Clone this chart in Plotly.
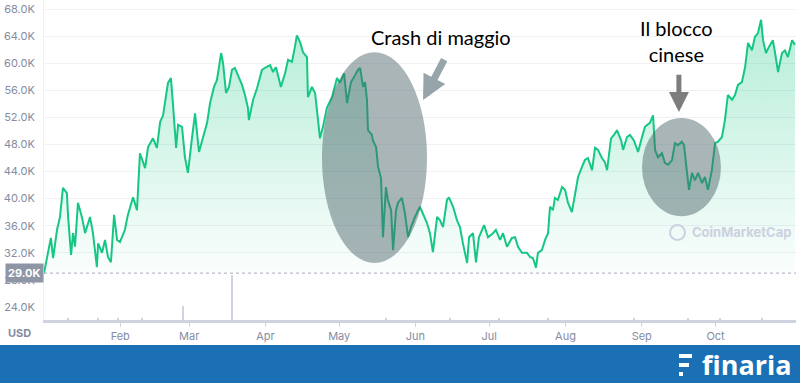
import pandas as pd
import plotly.graph_objects as go

# ---------------- data ----------------
start_date = "2021-01-01"
# days since 1 Jan 2021 and BTC price in thousands of USD
day = [0, 1.6, 2.8, 3.7, 5.3, 6.5, 7.7, 9.3, 9.8, 11.0, 11.8, 12.6, 13.8, 15.4, 16.7, 18.7, 19.9,
       21.5, 22.0, 23.6, 24.8, 26.0, 27.2, 28.5, 29.7, 30.9, 32.9, 34.1, 36.2, 37.8, 39.0, 41.1,
       42.3, 44.3, 45.9, 47.2, 48.4, 50.4, 51.6, 52.4, 53.7, 54.5, 56.1, 57.3, 58.5, 60.2, 61.4,
       63.0, 64.6, 66.3, 67.5, 69.1, 70.3, 72.0, 72.8, 74.0, 75.2, 76.4, 77.6, 78.9, 80.5, 81.7,
       82.9, 83.3, 85.0, 86.6, 88.6, 90.2, 91.9, 93.1, 94.3, 96.3, 98.0, 99.2, 100.8, 102.0, 102.8,
       104.1, 105.3, 106.9, 107.3, 108.9, 110.2, 111.4, 112.2, 113.4, 115.0, 117.1, 119.1, 120.3,
       122.0, 123.2, 124.8, 126.4, 127.6, 128.5, 129.7, 130.5, 131.3, 131.7, 133.3, 133.7, 135.0,
       135.8, 137.0, 137.8, 139.0, 139.8, 141.1, 141.9, 143.1, 143.9, 145.5, 146.7, 148.0, 149.2,
       150.8, 152.8, 154.5, 155.7, 156.9, 158.1, 159.8, 161.0, 162.2, 163.8, 164.6, 166.3, 167.9,
       169.1, 170.3, 172.0, 172.8, 174.4, 175.6, 176.8, 178.9, 180.5, 182.5, 183.7, 185.4, 186.6,
       188.2, 190.2, 191.5, 192.7, 194.3, 196.3, 197.6, 198.8, 200.0, 200.8, 202.4, 203.7, 204.9,
       205.7, 206.9, 207.7, 208.9, 210.6, 211.8, 213.0, 214.6, 215.9, 217.1, 218.7, 219.9, 221.1,
       222.8, 224.0, 225.2, 226.8, 228.0, 228.9, 230.5, 231.7, 232.9, 234.6, 235.4, 237.0, 238.2,
       239.8, 241.5, 243.1, 244.3, 246.3, 247.6, 248.4, 249.6, 251.2, 252.4, 253.7, 255.3, 256.5,
       257.7, 259.3, 260.2, 261.4, 262.2, 263.4, 264.6, 265.9, 267.5, 268.7, 269.9, 271.5, 272.8,
       274.0, 275.6, 276.8, 278.0, 279.7, 280.9, 282.1, 283.7, 285.0, 286.2, 287.8, 289.0, 290.2,
       291.5, 292.3, 293.5, 294.7, 296.3, 297.2, 298.4, 300.0, 301.2, 302.4, 304.1, 305.3]
price_k = [29.0, 32.0, 34.2, 31.2, 35.4, 37.3, 41.6, 40.8, 37.3, 31.7, 34.9, 32.9, 39.4, 37.3, 34.9, 37.3, 34.9,
           29.9, 33.4, 32.0, 33.9, 31.4, 30.6, 37.6, 33.9, 33.6, 35.4, 37.6, 40.2, 38.3, 46.7, 44.5,
           47.6, 48.9, 47.5, 51.3, 52.3, 57.1, 57.8, 54.1, 47.5, 50.9, 50.6, 46.1, 43.8, 49.1, 52.6,
           46.9, 48.9, 51.2, 54.1, 56.5, 57.5, 61.5, 60.0, 55.6, 56.5, 59.0, 59.3, 58.2, 56.8, 55.3,
           53.4, 51.6, 54.6, 56.3, 59.0, 59.4, 59.7, 58.7, 59.4, 56.5, 58.5, 60.5, 60.2, 62.4, 64.1,
           63.1, 61.6, 60.9, 55.0, 56.5, 55.6, 51.6, 48.9, 50.6, 53.4, 55.0, 57.8, 57.1,
           58.5, 54.1, 57.2, 58.2, 59.0, 59.3, 56.5, 57.2, 54.6, 50.1, 49.4, 48.6, 47.6,
           44.7, 43.0, 34.3, 41.7, 39.8, 38.3, 32.4, 38.3, 39.4, 40.1, 37.9, 34.3, 35.8,
           37.3, 38.8, 37.3, 36.4, 34.9, 32.1, 37.3, 36.8, 35.8, 39.8, 40.2, 38.8, 36.8,
           35.8, 33.4, 30.5, 34.3, 34.9, 30.6, 34.3, 36.1, 34.3, 34.9, 35.4, 33.9, 34.9,
           32.9, 34.2, 34.3, 32.9, 32.0, 32.0, 31.4, 31.2, 29.8, 32.0, 32.4, 33.9, 34.9,
           38.8, 38.3, 40.1, 39.8, 41.7, 41.3, 39.4, 38.0, 40.5, 43.2, 44.7, 45.7, 46.0,
           44.2, 47.5, 47.2, 46.0, 45.4, 44.2, 48.9, 49.4, 50.1, 48.6, 47.2, 49.1, 49.4,
           48.6, 46.9, 49.1, 50.6, 51.2, 52.3, 47.2, 46.1, 46.7, 45.3, 45.0, 45.7, 48.2,
           47.9, 48.4, 47.9, 43.8, 41.3, 43.8, 42.7, 43.8, 42.3, 43.2, 41.3, 44.2, 48.2,
           48.4, 49.1, 51.6, 55.3, 54.6, 55.3, 56.8, 57.2, 59.4, 63.0, 61.9, 63.9, 64.4,
           66.4, 63.4, 61.5, 62.4, 63.4, 61.5, 58.7, 61.5, 61.9, 60.9, 63.4, 62.7]

# trading volume (relative units, only visible bars)
vol_day = [10, 22, 30, 40, 56.5, 76.4, 139, 165, 185, 205, 240, 262, 275, 292]
vol_val = [5, 4, 5, 4, 30, 400, 5, 4, 3, 3, 3, 4, 4, 4]

open_price_k = 29.0

y_ticks = [24, 28, 32, 36, 40, 44, 48, 52, 56, 60, 64, 68]
y_tick_labels = ["24.0K", "28.0K", "32.0K", "36.0K", "40.0K", "44.0K", "48.0K",
                 "52.0K", "56.0K", "60.0K", "64.0K", "68.0K"]
month_ticks = ["2021-02-01", "2021-03-01", "2021-04-01", "2021-05-01", "2021-06-01",
               "2021-07-01", "2021-08-01", "2021-09-01", "2021-10-01"]
month_labels = ["Feb", "Mar", "Apr", "May", "Jun", "Jul", "Aug", "Sep", "Oct"]

# ---------------- build ----------------
base = pd.Timestamp(start_date)
def d(x):
    return base + pd.to_timedelta(x, unit="D")

dates = [d(x) for x in day]
vdates = [d(x) for x in vol_day]

GREEN = "#16c784"
TICK = "#858ca2"

fig = go.Figure()
fig.add_trace(go.Scatter(x=dates, y=[open_price_k] * len(dates), mode="lines",
                         line=dict(width=0), hoverinfo="skip", showlegend=False))
fig.add_trace(go.Scatter(
    x=dates, y=price_k, mode="lines", line=dict(color=GREEN, width=2),
    fill="tonexty",
    fillgradient=dict(type="vertical",
                      colorscale=[[0, "rgba(22,199,132,0.02)"], [1, "rgba(22,199,132,0.32)"]]),
    showlegend=False))
fig.add_trace(go.Bar(x=vdates, y=vol_val, yaxis="y2", marker_color="#cfd3df",
                     marker_line_width=0, width=86400000 * 0.6, showlegend=False))

x_end = d(305.7)
fig.update_layout(
    width=800, height=383,
    margin=dict(l=44, r=4, t=0, b=63, autoexpand=False),
    paper_bgcolor="white", plot_bgcolor="white",
    font=dict(family="Inter", color=TICK, size=11),
    xaxis=dict(type="date", range=[base, x_end], tickvals=month_ticks, ticktext=month_labels,
               showgrid=False, showline=True, linecolor="#cfd3df", linewidth=3,
               ticks="outside", ticklen=4, tickcolor="#cfd3df", automargin=False,
               tickfont=dict(size=11, color=TICK), zeroline=False),
    yaxis=dict(range=[22.08, 69.33], tickvals=y_ticks, ticktext=y_tick_labels,
               showgrid=True, gridcolor="#eff1f5", gridwidth=1, zeroline=False, automargin=False,
               showline=True, linecolor="#eff1f5", ticklabelstandoff=6,
               tickfont=dict(size=11, color=TICK)),
    yaxis2=dict(domain=[0, 0.14], range=[0, 100], visible=False, fixedrange=True),
    bargap=0,
)

# dotted open-price line and its label
fig.add_shape(type="line", xref="x", yref="y", x0=base, x1=x_end, y0=open_price_k, y1=open_price_k,
              line=dict(color="#a8adb9", width=1, dash="dot"), layer="above")
fig.add_annotation(xref="paper", yref="y", x=0, y=open_price_k, xanchor="right", yanchor="middle",
                   text="<b>29.0K</b>", showarrow=False, bgcolor="#8e95a4", borderpad=2,
                   font=dict(color="white", size=11, family="Inter"))
fig.add_annotation(xref="paper", yref="paper", x=-0.032, y=-0.042, xanchor="center", yanchor="middle",
                   text="<b>USD</b>", showarrow=False, font=dict(color=TICK, size=11, family="Inter"))

# highlight ellipses
ELL = "rgba(75,98,105,0.47)"
fig.add_shape(type="circle", xref="x", yref="y", x0=d(113.0), x1=d(155.7), y0=30.5, y1=61.6,
              fillcolor=ELL, line_width=0, layer="above")
fig.add_shape(type="circle", xref="x", yref="y", x0=d(243.1), x1=d(275.2), y0=37.4, y1=51.9,
              fillcolor=ELL, line_width=0, layer="above")

# annotation texts and arrows
fig.add_annotation(x=d(161.4), y=63.85, text="Crash di maggio", showarrow=False,
                   font=dict(family="Lato", size=20, color="black"))
fig.add_annotation(x=d(257.3), y=63.3, text="Il blocco<br>cinese", showarrow=False,
                   font=dict(family="Lato", size=20, color="black"))
fig.add_annotation(x=d(154.1), y=54.55, ax=d(163.0), ay=60.75, axref="x", ayref="y",
                   text="", showarrow=True, arrowhead=2, arrowwidth=7, arrowsize=0.7,
                   arrowcolor="#97a5aa")
fig.add_annotation(x=d(258.1), y=52.8, ax=d(258.1), ay=58.5, axref="x", ayref="y",
                   text="", showarrow=True, arrowhead=2, arrowwidth=5, arrowsize=0.8,
                   arrowcolor="#7d7d7d")

def px_x(p):
    return (p - 44) / 752
def px_y(p):
    return (320 - p) / 320

# CoinMarketCap watermark
fig.add_shape(type="circle", xref="paper", yref="paper",
              x0=px_x(670), x1=px_x(685), y0=px_y(240), y1=px_y(225),
              line=dict(color="#cdd0e0", width=2))
fig.add_annotation(xref="paper", yref="paper", x=px_x(690), y=px_y(232),
                   xanchor="left", yanchor="middle", text="<b>CoinMarketCap</b>", showarrow=False,
                   font=dict(family="Inter", size=13, color="#cdd0e0"))

# finaria footer band
fig.add_shape(type="rect", xref="paper", yref="paper", x0=-0.07, x1=1.02,
              y0=px_y(384), y1=px_y(345),
              fillcolor="#1b6fb5", line_width=0, layer="above")
for (x0, x1, y0, y1) in [(679, 692, 354, 358), (679, 689, 363, 367), (679, 683, 372, 376)]:
    fig.add_shape(type="rect", xref="paper", yref="paper", x0=px_x(x0), x1=px_x(x1),
                  y0=px_y(y1), y1=px_y(y0), fillcolor="white", line_width=0, layer="above")
fig.add_annotation(xref="paper", yref="paper", x=px_x(700), y=px_y(364), xanchor="left",
                   yanchor="middle", text="<b>finaria</b>", showarrow=False,
                   font=dict(family="Open Sans", size=27, color="white"))

fig.write_html("out.html", config={"displayModeBar": False},
               post_script="document.body.style.margin='0';")
